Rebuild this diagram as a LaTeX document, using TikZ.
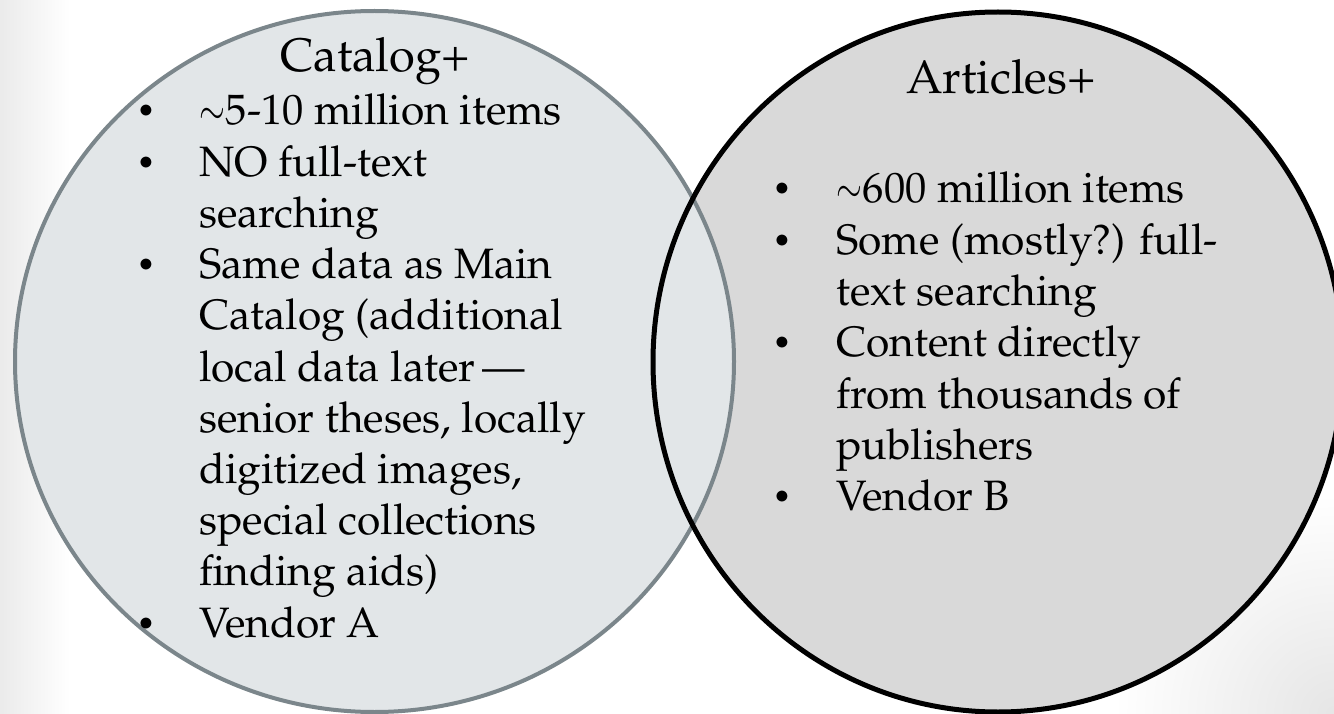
\documentclass[tikz,border=0pt]{standalone}
\usepackage[T1]{fontenc}
\usepackage{mathpazo}
\definecolor{lfill}{HTML}{E2E6E8}
\definecolor{lline}{HTML}{7B868B}
\definecolor{rfill}{HTML}{D9D9D9}
\tikzset{
  body/.style={anchor=base west, inner sep=0pt, font=\fontsize{42.5}{51}\selectfont},
  bul/.style={anchor=base, inner sep=0pt, font=\fontsize{42.5}{51}\selectfont},
  ttl/.style={anchor=base, inner sep=0pt, font=\fontsize{47}{56}\selectfont},
}
\newcommand\tld{\scalebox{0.75}[1]{$\sim$}}
\newcommand\bulmark{\raisebox{3pt}{\scalebox{0.75}{\textbullet}}}
\begin{document}
\begin{tikzpicture}[x=1pt,y=-1pt]
\useasboundingbox (0,0) rectangle (1334,714);
\fill[white] (0,0) rectangle (1334,714);
\shade[left color=black!8, right color=white] (0,0) rectangle (70,714);
\begin{scope}
  \clip (0,0) rectangle (1334,714);
  \shade[inner color=black!10, outer color=white] (1334,714) circle (220);
\end{scope}
% circles
\fill[rfill] (998,362) ellipse [x radius=345, y radius=350];
\filldraw[fill=lfill, draw=lline, line width=4pt] (374.5,361.5) ellipse [x radius=359.5, y radius=350.5];
\draw[black, line width=5pt] (998,362) ellipse [x radius=345, y radius=350];
% titles
\node[ttl] (LT) at (375,72) {Catalog+};
\node[ttl] (RT) at (1001,94) {Articles+};
% left list
\foreach \t [count=\k from 0] in {\tld5-10 million items, NO full-text, searching, Same data as Main, Catalog (additional, local data later\,---, {senior theses, locally}, {digitized images,}, special collections, finding aids), Vendor A}
  \node[body] (L\k) at (199,125+51.2*\k) {\t};
\foreach \k in {0,1,3,10}
  \node[bul] (LB\k) at (146,125+51.2*\k) {\bulmark};
% right list
\foreach \t [count=\k from 0] in {\tld600 million items, Some (mostly?) full-, text searching, Content directly, from thousands of, publishers, Vendor B}
  \node[body] (R\k) at (836,203+51.3*\k) {\t};
\foreach \k in {0,1,3,6}
  \node[bul] (RB\k) at (782,203+51.3*\k) {\bulmark};
\end{tikzpicture}
\end{document}
